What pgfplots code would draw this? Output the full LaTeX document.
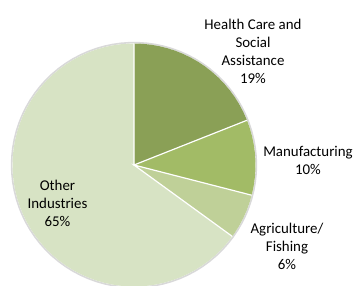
\documentclass[border=0pt]{standalone}
\usepackage{pgfplots}
\pgfplotsset{compat=1.18}
\usepackage{fontspec}
\setmainfont{Carlito}
\definecolor{cHealth}{RGB}{138,160,86}
\definecolor{cManu}{RGB}{162,187,102}
\definecolor{cAgri}{RGB}{191,208,152}
\definecolor{cOther}{RGB}{215,227,196}
\tikzset{lbl/.style={font=\fontsize{14.9bp}{18bp}\selectfont, align=center, text=black, inner sep=0pt}}
\begin{document}
\begin{tikzpicture}
\begin{axis}[
  scale only axis, width=355bp, height=286bp,
  xmin=-134, xmax=221, ymin=-121, ymax=165,
  hide axis, clip=true,
]
% outer shadow ring
\addplot[gray!30, line width=1.6bp, data cs=polar] coordinates {
(0,122.4)(4,122.4)(8,122.4)(12,122.4)(16,122.4)(20,122.4)(24,122.4)(28,122.4)(32,122.4)(36,122.4)(40,122.4)(44,122.4)(48,122.4)(52,122.4)(56,122.4)(60,122.4)(64,122.4)(68,122.4)(72,122.4)(76,122.4)(80,122.4)(84,122.4)(88,122.4)(92,122.4)(96,122.4)(100,122.4)(104,122.4)(108,122.4)(112,122.4)(116,122.4)(120,122.4)(124,122.4)(128,122.4)(132,122.4)(136,122.4)(140,122.4)(144,122.4)(148,122.4)(152,122.4)(156,122.4)(160,122.4)(164,122.4)(168,122.4)(172,122.4)(176,122.4)(180,122.4)(184,122.4)(188,122.4)(192,122.4)(196,122.4)(200,122.4)(204,122.4)(208,122.4)(212,122.4)(216,122.4)(220,122.4)(224,122.4)(228,122.4)(232,122.4)(236,122.4)(240,122.4)(244,122.4)(248,122.4)(252,122.4)(256,122.4)(260,122.4)(264,122.4)(268,122.4)(272,122.4)(276,122.4)(280,122.4)(284,122.4)(288,122.4)(292,122.4)(296,122.4)(300,122.4)(304,122.4)(308,122.4)(312,122.4)(316,122.4)(320,122.4)(324,122.4)(328,122.4)(332,122.4)(336,122.4)(340,122.4)(344,122.4)(348,122.4)(352,122.4)(356,122.4)(360,122.4)};
% Health Care and Social Assistance 19%
\addplot[fill=cHealth, draw=none, data cs=polar] coordinates {
(0,0)(90,121.5)(86,121.5)(82,121.5)(78,121.5)(74,121.5)(70,121.5)(66,121.5)(62,121.5)(58,121.5)(54,121.5)(50,121.5)(46,121.5)(42,121.5)(38,121.5)(34,121.5)(30,121.5)(26,121.5)(22,121.5)(21.6,121.5)} -- cycle;
% Manufacturing 10%
\addplot[fill=cManu, draw=none, data cs=polar] coordinates {
(0,0)(21.6,121.5)(18,121.5)(14,121.5)(10,121.5)(6,121.5)(2,121.5)(-2,121.5)(-6,121.5)(-10,121.5)(-14,121.5)(-14.4,121.5)} -- cycle;
% Agriculture/Fishing 6%
\addplot[fill=cAgri, draw=none, data cs=polar] coordinates {
(0,0)(-14.4,121.5)(-18,121.5)(-22,121.5)(-26,121.5)(-30,121.5)(-34,121.5)(-36,121.5)} -- cycle;
% Other Industries 65%
\addplot[fill=cOther, draw=none, data cs=polar] coordinates {
(0,0)(-36,121.5)(-40,121.5)(-44,121.5)(-48,121.5)(-52,121.5)(-56,121.5)(-60,121.5)(-64,121.5)(-68,121.5)(-72,121.5)(-76,121.5)(-80,121.5)(-84,121.5)(-88,121.5)(-92,121.5)(-96,121.5)(-100,121.5)(-104,121.5)(-108,121.5)(-112,121.5)(-116,121.5)(-120,121.5)(-124,121.5)(-128,121.5)(-132,121.5)(-136,121.5)(-140,121.5)(-144,121.5)(-148,121.5)(-152,121.5)(-156,121.5)(-160,121.5)(-164,121.5)(-168,121.5)(-172,121.5)(-176,121.5)(-180,121.5)(-184,121.5)(-188,121.5)(-192,121.5)(-196,121.5)(-200,121.5)(-204,121.5)(-208,121.5)(-212,121.5)(-216,121.5)(-220,121.5)(-224,121.5)(-228,121.5)(-232,121.5)(-236,121.5)(-240,121.5)(-244,121.5)(-248,121.5)(-252,121.5)(-256,121.5)(-260,121.5)(-264,121.5)(-268,121.5)(-270,121.5)} -- cycle;
% white dividers
\addplot[white, line width=1.2bp, data cs=polar] coordinates {(90,121.5)(0,0)(21.6,121.5)};
\addplot[white, line width=1.2bp, data cs=polar] coordinates {(-14.4,121.5)(0,0)(-36,121.5)};
% labels
\node[lbl] at (axis cs:119,114) {Health Care and\\Social\\Assistance\\19\%};
\node[lbl] at (axis cs:174,4.5) {Manufacturing\\10\%};
\node[lbl] at (axis cs:153,-81.5) {Agriculture/\\Fishing\\6\%};
\node[lbl] at (axis cs:-76.5,-38.5) {Other\\Industries\\65\%};
\end{axis}
\pgfresetboundingbox
\path (current axis.south west) rectangle (current axis.north east);
\end{tikzpicture}
\end{document}
